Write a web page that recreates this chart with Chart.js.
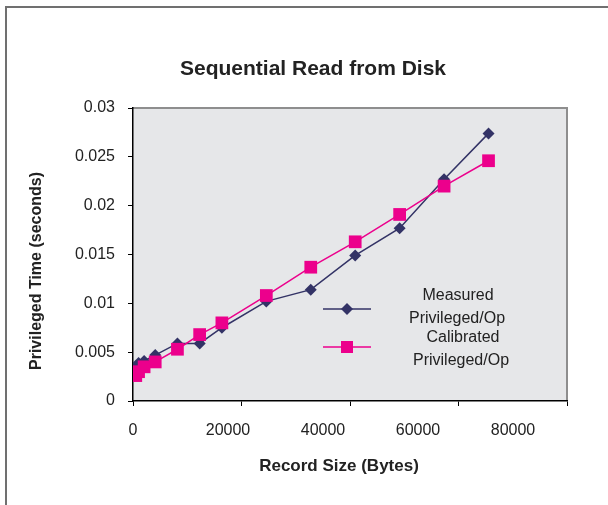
<!DOCTYPE html>
<html>
<head>
<meta charset="utf-8">
<script src="https://cdn.jsdelivr.net/npm/chart.js@4.4.1/dist/chart.umd.min.js"></script>
<style>
  html, body { margin: 0; padding: 0; background: #fff; overflow: hidden; }
  #wrap { position: relative; width: 608px; height: 505px; }
  #frame { position: absolute; left: 5px; top: 6px; width: 800px; height: 800px;
           border-left: 2px solid #707070; border-top: 2px solid #707070; }
  canvas { position: absolute; left: 0; top: 0; }
</style>
</head>
<body>
<div id="wrap">
  <div id="frame"></div>
  <canvas id="readChart" width="608" height="505"></canvas>
</div>
<script>
// record sizes in bytes
const recordSizes = [512, 1024, 2048, 4096, 8192, 12288, 16384, 24576, 32768, 40960, 49152, 57344, 65536];
const measured   = [0.0035, 0.0039, 0.0041, 0.0047, 0.0059, 0.0059, 0.0075, 0.0102, 0.0114, 0.0149, 0.0177, 0.0227, 0.0274];
const calibrated = [0.0026, 0.0030, 0.0035, 0.0040, 0.0053, 0.0068, 0.0080, 0.0108, 0.0137, 0.0163, 0.0191, 0.0220, 0.0246];

const xTickValues = [0, 20000, 40000, 60000, 80000];
const xTickLabels = ["0", "20000", "40000", "60000", "80000"];
const yTickValues = [0, 0.005, 0.01, 0.015, 0.02, 0.025, 0.03];
const yTickLabels = ["0", "0.005", "0.01", "0.015", "0.02", "0.025", "0.03"];

const seriesNames = [["Measured", "Privileged/Op"], ["Calibrated", "Privileged/Op"]];
const navy = "#333366";
const pink = "#ec008c";
const textColor = "#222";
const fontFamily = "'Liberation Sans', Arial, sans-serif";

function pts(ys) {
  return recordSizes.map((x, i) => ({x: x, y: ys[i]}));
}

// background, frame of the plot, titles and legend
const decor = {
  id: "decor",
  beforeDraw(chart) {
    const {ctx, chartArea: a} = chart;
    ctx.save();
    ctx.fillStyle = "#e6e7e9";
    ctx.fillRect(a.left, a.top, a.right - a.left, a.bottom - a.top);
    ctx.strokeStyle = "#8e8e8e";
    ctx.lineWidth = 2;
    ctx.beginPath();
    ctx.moveTo(a.left, a.top);
    ctx.lineTo(a.right, a.top);
    ctx.lineTo(a.right, a.bottom);
    ctx.stroke();
    ctx.restore();
  },
  afterDraw(chart) {
    const ctx = chart.ctx;
    ctx.save();
    ctx.fillStyle = textColor;
    ctx.textAlign = "center";
    ctx.textBaseline = "middle";

    ctx.font = "bold 21px " + fontFamily;
    ctx.fillText("Sequential Read from Disk", 313, 69);

    ctx.font = "bold 17px " + fontFamily;
    ctx.fillText("Record Size (Bytes)", 339, 466);

    ctx.save();
    ctx.translate(37, 271);
    ctx.rotate(-Math.PI / 2);
    ctx.font = "bold 16px " + fontFamily;
    ctx.fillText("Privileged Time (seconds)", 0, 0);
    ctx.restore();

    // legend
    ctx.font = "16px " + fontFamily;
    ctx.fillText(seriesNames[0][0], 458, 296);
    ctx.fillText(seriesNames[0][1], 457, 319);
    ctx.fillText(seriesNames[1][0], 463, 338);
    ctx.fillText(seriesNames[1][1], 461, 361);

    ctx.lineWidth = 1.5;
    ctx.strokeStyle = navy;
    ctx.beginPath(); ctx.moveTo(323, 309); ctx.lineTo(371, 309); ctx.stroke();
    ctx.fillStyle = navy;
    ctx.beginPath();
    ctx.moveTo(347, 303); ctx.lineTo(353, 309); ctx.lineTo(347, 315); ctx.lineTo(341, 309);
    ctx.closePath(); ctx.fill();

    ctx.strokeStyle = pink;
    ctx.beginPath(); ctx.moveTo(323, 347); ctx.lineTo(371, 347); ctx.stroke();
    ctx.fillStyle = pink;
    ctx.fillRect(341, 341, 12, 12);
    ctx.restore();
  }
};

const ctx = document.getElementById("readChart");
const readChart = new Chart(ctx, {
  type: "line",
  data: {
    datasets: [{
      label: "Measured Privileged/Op",
      data: pts(measured),
      borderColor: navy,
      backgroundColor: navy,
      borderWidth: 1.5,
      pointStyle: "rectRot",
      pointRadius: 6,
      pointBorderWidth: 0,
      order: 1
    }, {
      label: "Calibrated Privileged/Op",
      data: pts(calibrated),
      borderColor: pink,
      backgroundColor: pink,
      borderWidth: 1.5,
      pointStyle: "rect",
      pointRadius: 9,
      pointBorderWidth: 0,
      order: 0
    }]
  },
  options: {
    responsive: false,
    animation: false,
    layout: {
      padding: {top: 108, right: 41, left: 0, bottom: 0}
    },
    plugins: {
      legend: {display: false},
      title: {display: false},
      tooltip: {enabled: false}
    },
    scales: {
      x: {
        type: "linear",
        position: "bottom",
        weight: 0,
        min: 0,
        max: 80000,
        afterBuildTicks: s => { s.ticks = xTickValues.map(v => ({value: v})); },
        afterFit: s => { s.height = 5; },
        ticks: {display: false},
        grid: {drawOnChartArea: false, drawTicks: true, tickLength: 5, color: "#000", lineWidth: 1},
        border: {color: "#000", width: 1.5}
      },
      // the printed labels in the picture sit on a narrower spacing than the tick marks
      xLabels: {
        type: "linear",
        position: "bottom",
        weight: 1,
        min: 0,
        max: 91368,
        afterBuildTicks: s => { s.ticks = xTickValues.map(v => ({value: v})); },
        afterFit: s => { s.height = 99; },
        ticks: {
          padding: 15,
          color: textColor,
          font: {family: fontFamily, size: 16},
          maxRotation: 0,
          callback: (v, i) => xTickLabels[i]
        },
        grid: {display: false, drawTicks: false},
        border: {display: false}
      },
      y: {
        min: 0,
        max: 0.03,
        afterBuildTicks: s => { s.ticks = yTickValues.map(v => ({value: v})); },
        afterFit: s => { s.width = 133; },
        ticks: {
          padding: 13,
          color: textColor,
          font: {family: fontFamily, size: 16},
          callback: (v, i) => yTickLabels[i]
        },
        grid: {drawOnChartArea: false, drawTicks: true, tickLength: 5, color: "#000", lineWidth: 1},
        border: {color: "#000", width: 1.5}
      }
    }
  },
  plugins: [decor]
});
</script>
</body>
</html>
